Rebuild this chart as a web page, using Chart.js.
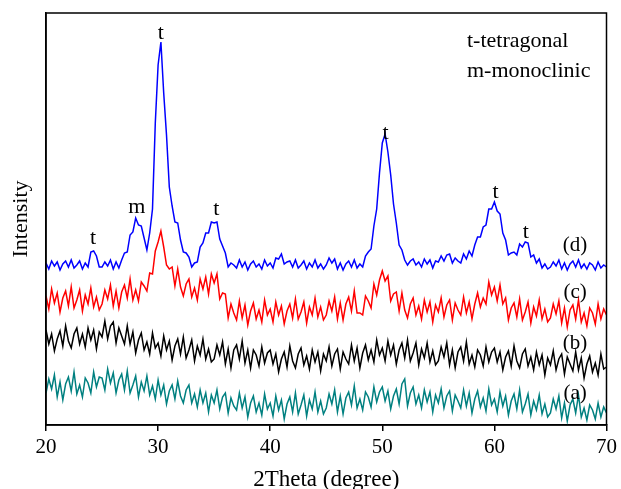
<!DOCTYPE html>
<html>
<head>
<meta charset="utf-8">
<script src="https://cdn.jsdelivr.net/npm/chart.js@4.4.1/dist/chart.umd.min.js"></script>
<style>
  html, body { margin: 0; padding: 0; background: #fff; }
  #xrd { display: block; }
</style>
</head>
<body>
<canvas id="xrd" width="621" height="489"></canvas>
<script>
// scan grid: 20 -> 70 deg, 0.25 deg step
const START = 20, STEP = 0.25;

// (d) blue
const seriesD = [
  162,156,164,159,163,155,161,164,158,165,157,160,164,156,162,158,173,174,169,158,
  158,163,159,165,156,163,157,165,172,173,190,193,207,200,199,187,175,192,216,302,
  360,383,332,290,238,219,203,202,185,173,172,168,158,162,163,178,182,192,192,203,
  202,203,186,179,172,158,162,160,157,165,158,163,155,161,164,158,161,156,165,159,
  162,157,167,166,171,161,163,164,158,165,157,160,164,156,162,158,165,157,161,156,
  160,167,162,166,156,162,155,161,164,158,165,157,161,158,169,173,176,199,216,252,
  282,291,273,250,221,202,180,175,165,160,164,166,160,163,158,166,161,165,157,164,
  163,169,164,170,171,162,167,164,162,171,166,174,169,180,188,188,198,200,216,216,
  223,214,211,192,185,170,172,173,170,181,178,183,182,168,170,162,166,157,161,156,
  158,163,159,165,156,162,155,161,164,158,165,157,161,156,162,160,155,163,157,160,158
];

// (c) red
const seriesC = [
  129,116,136,122,132,113,127,134,119,138,117,125,135,114,130,121,137,118,128,115,
  121,135,126,140,119,134,117,133,140,127,146,125,135,124,143,139,134,152,151,174,
  183,194,178,160,156,158,139,156,138,129,141,146,128,137,125,146,136,148,131,151,
  142,151,126,132,131,107,121,112,105,124,107,120,100,114,122,106,115,103,125,110,
  116,103,123,110,119,101,114,121,107,126,106,113,123,102,118,110,127,108,118,105,
  110,124,114,128,106,122,105,121,128,114,134,112,112,110,129,124,117,141,130,145,
  154,144,149,124,131,133,114,132,115,107,121,127,110,119,106,125,113,123,103,120,
  113,127,108,120,125,105,122,115,110,128,112,123,106,121,132,118,127,121,143,130,
  138,124,140,121,127,105,117,122,108,126,105,113,123,102,118,109,125,106,116,103,
  107,121,111,124,102,117,98,115,120,106,125,103,112,99,117,112,101,121,106,116,110
];

// (b) black
const seriesB = [
  95,81,91,74,86,94,79,99,84,77,91,97,81,91,78,97,85,95,76,93,
  88,104,86,99,103,82,97,89,81,99,81,93,72,85,92,75,83,71,92,77,
  82,69,89,75,84,65,79,86,71,88,67,75,85,64,79,70,86,66,76,63,
  66,80,70,83,61,76,57,75,80,66,84,62,75,57,75,70,59,78,62,72,
  75,61,71,53,66,73,58,79,64,57,71,77,60,69,56,75,63,73,54,71,
  64,78,59,71,76,56,73,66,61,80,64,77,57,72,80,65,75,63,85,70,
  77,64,84,70,80,61,75,82,67,85,64,72,82,60,76,67,82,63,74,60,
  64,78,68,82,60,75,57,73,78,64,83,61,70,58,75,70,59,78,63,73,
  77,63,73,55,68,74,59,79,64,57,71,76,59,68,55,73,60,70,50,67,
  60,74,55,66,71,51,68,61,54,73,55,67,47,61,69,53,62,50,71,56,58
];

// (a) teal
const seriesA = [
  32,46,36,50,28,43,25,41,48,34,53,31,40,28,47,42,32,53,38,48,
  47,35,56,42,52,32,45,51,35,54,32,40,49,28,43,34,49,30,39,26,
  45,30,40,21,34,40,26,44,29,22,35,40,22,31,18,35,22,32,13,30,
  22,35,16,28,32,12,27,19,15,32,17,28,8,22,29,13,22,10,31,16,
  22,9,29,15,25,6,21,28,13,32,11,20,30,9,25,16,33,13,24,11,
  17,31,21,35,13,29,11,27,33,20,39,17,26,15,33,28,18,38,23,33,
  38,24,34,16,29,36,21,41,46,19,32,38,21,30,17,35,23,33,13,30,
  22,36,17,29,34,14,30,24,17,35,19,32,12,26,34,18,27,14,36,20,
  26,13,33,19,29,10,24,31,16,35,13,21,31,10,24,15,30,11,21,8,
  12,26,16,29,7,22,4,20,26,12,30,8,17,5,20,15,6,22,8,18,12
];

const xTicks = [20, 30, 40, 50, 60, 70];

// phase markers above peaks (2theta, intensity)
const peakText = ['t', 'm', 't', 't', 't', 't', 't'];
const peakX    = [24.2, 28.1, 30.25, 35.2, 50.3, 60.1, 62.8];
const peakY    = [187, 218, 392, 216, 292, 233, 193];

const curveText = ['(d)', '(c)', '(b)', '(a)'];
const curveY    = [180, 133, 82, 32];

const SERIF = '"Liberation Serif", "DejaVu Serif", serif';

const twoTheta = seriesD.map((_, i) => START + i * STEP);
const pts = arr => arr.map((v, i) => ({x: twoTheta[i], y: v}));

const overlay = {
  id: 'overlay',
  afterDraw(chart) {
    const {ctx, chartArea: a, scales: {x, y}} = chart;
    ctx.save();
    ctx.strokeStyle = '#000';
    ctx.lineWidth = 1.5;
    ctx.strokeRect(a.left, a.top, a.right - a.left, a.bottom - a.top);

    ctx.fillStyle = '#000';
    ctx.textAlign = 'center';
    ctx.textBaseline = 'middle';
    ctx.font = '22px ' + SERIF;
    peakText.forEach((t, i) => ctx.fillText(t, x.getPixelForValue(peakX[i]), y.getPixelForValue(peakY[i])));

    ctx.font = '21px ' + SERIF;
    curveText.forEach((t, i) => ctx.fillText(t, x.getPixelForValue(67.2), y.getPixelForValue(curveY[i])));

    ctx.textAlign = 'left';
    ctx.textBaseline = 'alphabetic';
    ctx.font = '22px ' + SERIF;
    ctx.fillText('t-tetragonal', 467, 47);
    ctx.fillText('m-monoclinic', 467, 77);
    ctx.restore();
  }
};

new Chart(document.getElementById('xrd'), {
  type: 'line',
  data: {
    datasets: [
      {label: '(d)', data: pts(seriesD), borderColor: '#0000ff'},
      {label: '(c)', data: pts(seriesC), borderColor: '#ff0000'},
      {label: '(b)', data: pts(seriesB), borderColor: '#000000'},
      {label: '(a)', data: pts(seriesA), borderColor: '#008080'}
    ].map(d => Object.assign(d, {borderWidth: 1.5, pointRadius: 0, tension: 0, fill: false}))
  },
  options: {
    responsive: false,
    animation: false,
    layout: {padding: {left: 0, right: 12, top: 13, bottom: 0}},
    plugins: {legend: {display: false}, tooltip: {enabled: false}},
    scales: {
      x: {
        type: 'linear', min: 20, max: 70,
        afterBuildTicks: s => { s.ticks = xTicks.map(v => ({value: v})); },
        afterFit: s => { s.height = 64; },
        grid: {display: true, drawOnChartArea: false, drawTicks: true, tickLength: 6, color: '#000', lineWidth: 1.5},
        border: {display: true, color: '#000', width: 1.5},
        ticks: {color: '#000', padding: 4, font: {family: SERIF, size: 21}, maxRotation: 0},
        title: {display: true, text: '2Theta (degree)', color: '#000',
                font: {family: SERIF, size: 23}, padding: {top: 0, bottom: -5}}
      },
      y: {
        min: 0, max: 412,
        afterFit: s => { s.width = 46; },
        grid: {display: false},
        border: {display: true, color: '#000', width: 1.5},
        ticks: {display: false},
        title: {display: true, text: 'Intensity', color: '#000',
                font: {family: SERIF, size: 22}, padding: {top: 8, bottom: 0}}
      }
    }
  },
  plugins: [overlay]
});
</script>
</body>
</html>
